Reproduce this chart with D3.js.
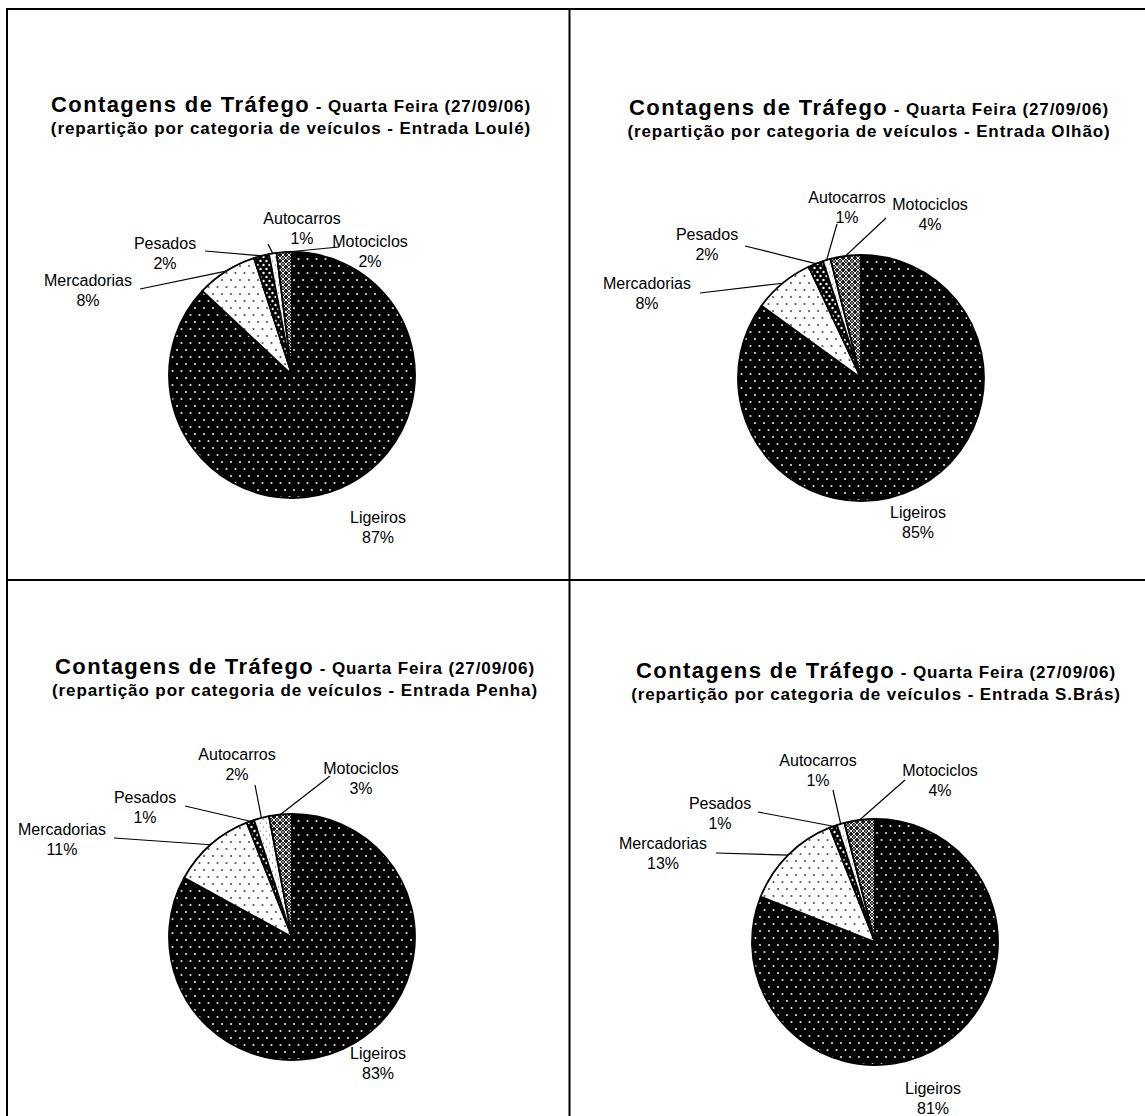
<!DOCTYPE html>
<html>
<head>
<meta charset="utf-8">
<script src="https://cdn.jsdelivr.net/npm/d3@7"></script>
<style>
  html, body { margin: 0; padding: 0; background: #fff; }
  svg { display: block; font-family: "Liberation Sans", Arial, sans-serif; }
</style>
</head>
<body>
<svg id="chart" width="1145" height="1116"></svg>
<script>
// Vehicle categories, in drawing order (clockwise from 12 o'clock)
const categories = ["Ligeiros", "Mercadorias", "Pesados", "Autocarros", "Motociclos"];

// Share of traffic (%) per entrance
const entrances = ["Loulé", "Olhão", "Penha", "S.Brás"];
const valuesLoule = [87, 8, 2, 1, 2];
const valuesOlhao = [85, 8, 2, 1, 4];
const valuesPenha = [83, 11, 1, 2, 3];
const valuesSBras = [81, 13, 1, 1, 4];
const seriesValues = [valuesLoule, valuesOlhao, valuesPenha, valuesSBras];

const titleMain = "Contagens de Tráfego";
const titleDay = " - Quarta Feira (27/09/06)";
const subtitlePrefix = "(repartição por categoria de veículos - Entrada ";

// ---- layout ----
const W = 1145, H = 1116;
const svg = d3.select("#chart");
const radius = 123;

// per-panel placement: pie centre, title centre/baselines, label offsets [dx,dy] and leader starts
const panels = [
  { cx: 292, cy: 375, tx: 291, ty: 112,
    labels: [[86, 142], [-204, -95], [-127, -132], [10, -157], [78, -134]],
    leaders: [null, [-152, -86], [-87, -124], [-24, -131], [47, -128]] },
  { cx: 861, cy: 378, tx: 869, ty: 115,
    labels: [[57, 134], [-214, -95], [-154, -144], [-14, -181], [69, -174]],
    leaders: [null, [-161, -85], [-116, -132], [-24, -154], [25, -160]] },
  { cx: 292, cy: 937, tx: 295, ty: 674,
    labels: [[86, 116], [-230, -108], [-147, -140], [-55, -183], [69, -169]],
    leaders: [null, [-178, -99], [-107, -131], [-37, -152], [38, -161]] },
  { cx: 875, cy: 942, tx: 876, ty: 678,
    labels: [[58, 146], [-212, -99], [-155, -139], [-57, -182], [65, -172]],
    leaders: [null, [-159, -89], [-117, -130], [-42, -152], [30, -162]] }
];

// ---- fill patterns ----
const defs = svg.append("defs");
function dotPattern(id, w, h, bg, fg, r, pts) {
  const p = defs.append("pattern").attr("id", id)
    .attr("patternUnits", "userSpaceOnUse").attr("width", w).attr("height", h);
  p.append("rect").attr("width", w).attr("height", h).attr("fill", bg);
  pts.forEach(([x, y]) => p.append("circle").attr("cx", x).attr("cy", y).attr("r", r).attr("fill", fg));
}
dotPattern("pat-ligeiros", 9, 14, "#000", "#e0e0e0", 1.1, [[2, 3], [6.5, 10]]);
dotPattern("pat-mercadorias", 9, 14, "#fff", "#555", 1.1, [[2, 3], [6.5, 10]]);
dotPattern("pat-pesados", 6, 8, "#000", "#fff", 1.2, [[1.5, 2], [4.5, 6]]);
dotPattern("pat-autocarros", 6, 8, "#fff", "#444", 0.6, [[1.5, 2], [4.5, 6]]);
(function () {
  const p = defs.append("pattern").attr("id", "pat-motociclos")
    .attr("patternUnits", "userSpaceOnUse").attr("width", 6).attr("height", 6);
  p.append("rect").attr("width", 6).attr("height", 6).attr("fill", "#222");
  p.append("path").attr("d", "M0,3 L3,0 L6,3 L3,6 Z").attr("fill", "none")
    .attr("stroke", "#eee").attr("stroke-width", 1);
  p.append("circle").attr("cx", 3).attr("cy", 3).attr("r", 0.9).attr("fill", "#aaa");
})();

const fillScale = d3.scaleOrdinal()
  .domain(categories)
  .range(["url(#pat-ligeiros)", "url(#pat-mercadorias)", "url(#pat-pesados)",
          "url(#pat-autocarros)", "url(#pat-motociclos)"]);

// ---- frame ----
const frame = svg.append("g").attr("stroke", "#000").attr("stroke-width", 2);
frame.append("line").attr("x1", 6).attr("x2", W).attr("y1", 9).attr("y2", 9);
frame.append("line").attr("x1", 7).attr("x2", 7).attr("y1", 8).attr("y2", H);
frame.append("line").attr("x1", 569.5).attr("x2", 569.5).attr("y1", 8).attr("y2", H);
frame.append("line").attr("x1", 6).attr("x2", W).attr("y1", 580).attr("y2", 580);

// ---- pies ----
const pie = d3.pie().sort(null).value(d => d.value);
const arc = d3.arc().innerRadius(0).outerRadius(radius);

panels.forEach((pn, i) => {
  const data = categories.map((c, k) => ({ cat: c, value: seriesValues[i][k] }));
  const arcs = pie(data);

  // title
  const t1 = svg.append("text").attr("x", pn.tx).attr("y", pn.ty)
    .attr("text-anchor", "middle").attr("font-weight", "bold").attr("fill", "#000");
  t1.append("tspan").attr("font-size", 22).attr("letter-spacing", 1.4).text(titleMain);
  t1.append("tspan").attr("font-size", 17).attr("letter-spacing", 0.9).text(titleDay);
  svg.append("text").attr("x", pn.tx).attr("y", pn.ty + 22)
    .attr("text-anchor", "middle").attr("font-weight", "bold").attr("font-size", 17)
    .attr("letter-spacing", 0.9).text(subtitlePrefix + entrances[i] + ")");

  const g = svg.append("g").attr("transform", `translate(${pn.cx},${pn.cy})`);
  g.selectAll("path.slice").data(arcs).join("path")
    .attr("class", "slice")
    .attr("d", arc)
    .attr("fill", d => fillScale(d.data.cat))
    .attr("stroke", "#000").attr("stroke-width", 1.8).attr("stroke-linejoin", "round");

  // leader lines from label to the slice edge at its mid-angle
  arcs.forEach((a, k) => {
    const st = pn.leaders[k];
    if (!st) return;
    const mid = (a.startAngle + a.endAngle) / 2;
    const ex = Math.sin(mid) * radius, ey = -Math.cos(mid) * radius;
    g.append("line").attr("x1", st[0]).attr("y1", st[1]).attr("x2", ex).attr("y2", ey)
      .attr("stroke", "#000").attr("stroke-width", 1.2);
  });

  // labels: category name + percentage
  arcs.forEach((a, k) => {
    const [lx, ly] = pn.labels[k];
    const txt = g.append("text").attr("text-anchor", "middle").attr("font-size", 16).attr("fill", "#000");
    txt.append("tspan").attr("x", lx).attr("y", ly + 6).text(a.data.cat);
    txt.append("tspan").attr("x", lx).attr("y", ly + 26).text(d3.format(".0f")(a.data.value) + "%");
  });
});
</script>
</body>
</html>
